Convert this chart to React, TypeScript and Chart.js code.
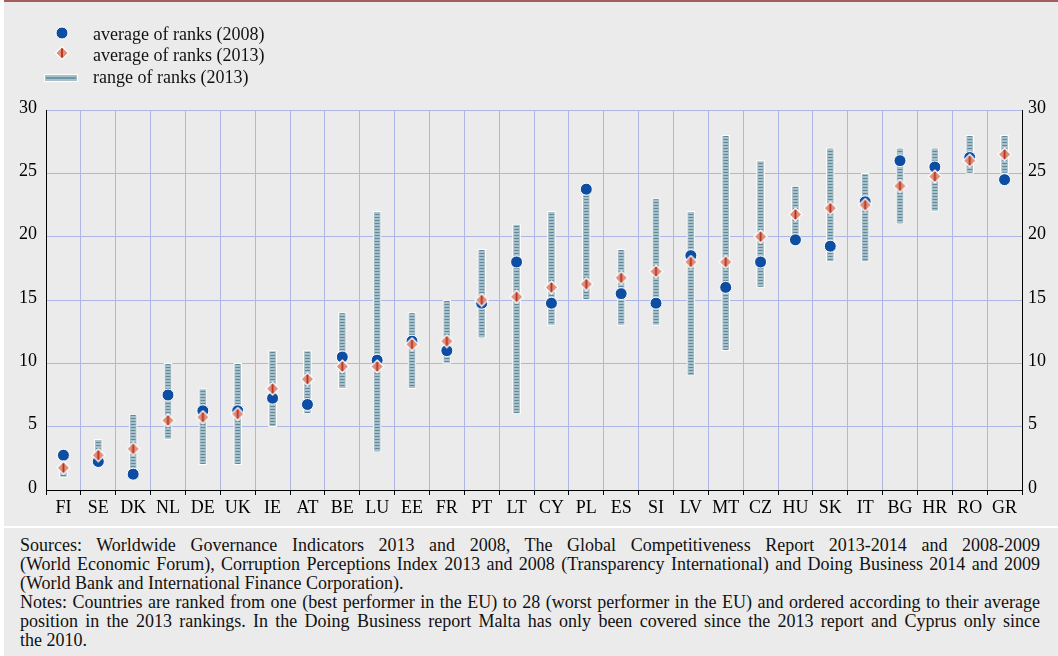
import React, { useEffect, useRef } from 'react';
import { Chart, registerables } from 'chart.js';

Chart.register(...registerables);

// ---------- data ----------
const countries = ['FI', 'SE', 'DK', 'NL', 'DE', 'UK', 'IE', 'AT', 'BE', 'LU', 'EE', 'FR', 'PT', 'LT', 'CY', 'PL', 'ES', 'SI', 'LV', 'MT', 'CZ', 'HU', 'SK', 'IT', 'BG', 'HR', 'RO', 'GR'];
const avgRanks2008 = [2.75, 2.25, 1.25, 7.5, 6.25, 6.25, 7.25, 6.75, 10.5, 10.25, 11.75, 11, 14.75, 18, 14.75, 23.75, 15.5, 14.75, 18.5, 16, 18, 19.75, 19.25, 22.75, 26, 25.5, 26.25, 24.5];
const avgRanks2013 = [1.75, 2.75, 3.25, 5.5, 5.75, 6, 8, 8.75, 9.75, 9.75, 11.5, 11.75, 15, 15.25, 16, 16.25, 16.75, 17.25, 18, 18, 20, 21.75, 22.25, 22.5, 24, 24.75, 26, 26.5];
const rangeMin2013 = [1, 2, 1, 4, 2, 2, 5, 6, 8, 3, 8, 10, 12, 6, 13, 15, 13, 13, 9, 11, 16, 20, 18, 18, 21, 22, 25, 25];
const rangeMax2013 = [2, 4, 6, 10, 8, 10, 11, 11, 14, 22, 14, 15, 19, 21, 22, 24, 19, 23, 22, 28, 26, 24, 27, 25, 27, 27, 28, 28];
const yMin = 0;
const yMax = 30;
const yStep = 5;

const legendLabels = ['average of ranks (2008)', 'average of ranks (2013)', 'range of ranks (2013)'];

const sourcesLines = [
  'Sources: Worldwide Governance Indicators 2013 and 2008, The Global Competitiveness Report 2013-2014 and 2008-2009',
  '(World Economic Forum), Corruption Perceptions Index 2013 and 2008 (Transparency International) and Doing Business 2014 and 2009',
  '(World Bank and International Finance Corporation).',
];
const notesLines = [
  'Notes: Countries are ranked from one (best performer in the EU) to 28 (worst performer in the EU) and ordered according to their average',
  'position in the 2013 rankings. In the Doing Business report Malta has only been covered since the 2013 report and Cyprus only since',
  'the 2010.',
];

// ---------- styles ----------
const FONT = '"Liberation Serif", "Times New Roman", Times, serif';
const BLUE = '#0d4ea3';
const SALMON = '#de8f7b';
const DARKRED = '#b3301e';
const RANGE_LIGHT = '#a9bfca';
const RANGE_DARK = '#5a8a9a';
const GRID = '#aeb6e6';
const PANEL = '#ebebeb';
const TRANSPARENT = 'rgba(0,0,0,0)';

function makeDiamond(): HTMLCanvasElement {
  const c = document.createElement('canvas');
  c.width = 15;
  c.height = 15;
  const g = c.getContext('2d')!;
  g.beginPath();
  g.moveTo(7.5, 1);
  g.lineTo(14, 7.5);
  g.lineTo(7.5, 14);
  g.lineTo(1, 7.5);
  g.closePath();
  g.fillStyle = SALMON;
  g.fill();
  g.lineWidth = 1.2;
  g.strokeStyle = '#ffffff';
  g.stroke();
  g.beginPath();
  g.moveTo(7.5, 3);
  g.lineTo(7.5, 12);
  g.lineWidth = 1.8;
  g.strokeStyle = DARKRED;
  g.stroke();
  return c;
}

function makeStripePattern(ctx: CanvasRenderingContext2D): CanvasPattern | string {
  const c = document.createElement('canvas');
  c.width = 2;
  c.height = 3;
  const g = c.getContext('2d')!;
  g.fillStyle = RANGE_DARK;
  g.fillRect(0, 1, 2, 1);
  return ctx.createPattern(c, 'repeat') || RANGE_DARK;
}

function ChartCanvas() {
  const ref = useRef<HTMLCanvasElement | null>(null);
  useEffect(() => {
    const canvas = ref.current;
    if (!canvas) return;
    const ctx = canvas.getContext('2d')!;
    const diamond = makeDiamond();
    const stripes = makeStripePattern(ctx);
    const ranges = countries.map((_, i) => [rangeMin2013[i], rangeMax2013[i]]);

    const tickFont = { family: FONT, size: 18 };

    const chart = new Chart(ctx, {
      type: 'bar',
      data: {
        labels: countries,
        datasets: [
          {
            type: 'line',
            label: legendLabels[1],
            data: avgRanks2013,
            showLine: false,
            pointStyle: diamond as any,
            pointRadius: 7,
            order: 0,
          } as any,
          {
            type: 'line',
            label: legendLabels[0],
            data: avgRanks2008,
            showLine: false,
            pointStyle: 'circle',
            pointRadius: 6,
            pointBackgroundColor: BLUE,
            pointBorderColor: '#ffffff',
            pointBorderWidth: 1,
            order: 1,
          } as any,
          {
            type: 'bar',
            label: 'stripes',
            data: ranges,
            backgroundColor: stripes,
            borderColor: TRANSPARENT,
            borderWidth: 1,
            borderSkipped: false,
            barThickness: 6,
            grouped: false,
            order: 2,
          } as any,
          {
            type: 'bar',
            label: legendLabels[2],
            data: ranges,
            backgroundColor: RANGE_LIGHT,
            borderColor: '#ffffff',
            borderWidth: 1,
            borderSkipped: false,
            barThickness: 8,
            grouped: false,
            order: 3,
          } as any,
        ],
      },
      options: {
        animation: false,
        responsive: false,
        maintainAspectRatio: false,
        layout: { padding: { top: 110, left: 0, right: 0, bottom: 0 } },
        plugins: { legend: { display: false }, tooltip: { enabled: false } },
        scales: {
          x: {
            type: 'category',
            offset: true,
            grid: {
              offset: true,
              display: true,
              drawOnChartArea: true,
              color: (c: any) => (c.index === 0 || c.index === undefined ? TRANSPARENT : GRID),
              lineWidth: 1,
              drawTicks: true,
              tickLength: 5,
              tickColor: '#000000',
              tickWidth: 1,
            },
            border: { display: true, color: '#000000', width: 1 },
            ticks: { color: '#000000', font: tickFont, padding: 2, maxRotation: 0, autoSkip: false },
            afterFit: (s: any) => {
              s.height = 36;
            },
          },
          y: {
            position: 'left',
            min: yMin,
            max: yMax,
            ticks: { stepSize: yStep, color: '#000000', font: tickFont, padding: 9, labelOffset: -2 },
            grid: {
              color: (c: any) => (c.tick && c.tick.value === 0 ? TRANSPARENT : GRID),
              lineWidth: 1,
              drawTicks: false,
            },
            border: { display: true, color: '#000000', width: 1 },
            afterFit: (s: any) => {
              s.width = 46;
            },
          },
          y2: {
            position: 'right',
            min: yMin,
            max: yMax,
            ticks: { stepSize: yStep, color: '#000000', font: tickFont, padding: 6, labelOffset: -2 },
            grid: { drawOnChartArea: false, drawTicks: false },
            border: { display: true, color: '#000000', width: 1 },
            afterFit: (s: any) => {
              s.width = 36;
            },
          },
        },
      } as any,
    });
    return () => chart.destroy();
  }, []);
  return (
    <canvas
      ref={ref}
      width={1058}
      height={526}
      style={{ position: 'absolute', left: 0, top: 0, width: 1058, height: 526 }}
    />
  );
}

function Legend() {
  const rows = [34, 55, 77];
  return (
    <>
      <svg width={120} height={100} style={{ position: 'absolute', left: 0, top: 0 }}>
        <circle cx={62} cy={33} r={6} fill={BLUE} stroke="#ffffff" strokeWidth={1} />
        <path d="M62 46.5 L68.5 53 L62 59.5 L55.5 53 Z" fill={SALMON} stroke="#ffffff" strokeWidth={1.2} />
        <line x1={62} y1={48.5} x2={62} y2={57.5} stroke={DARKRED} strokeWidth={1.8} />
        <rect x={44.5} y={74.5} width={33} height={7} fill={RANGE_LIGHT} stroke="#ffffff" strokeWidth={1} />
        <line x1={46} y1={78} x2={76} y2={78} stroke={RANGE_DARK} strokeWidth={1.5} />
      </svg>
      {legendLabels.map((t, i) => (
        <div
          key={t}
          style={{
            position: 'absolute',
            left: 93,
            top: rows[i] - 11,
            height: 22,
            lineHeight: '22px',
            fontFamily: FONT,
            fontSize: 18,
            color: '#111111',
            whiteSpace: 'nowrap',
          }}
        >
          {t}
        </div>
      ))}
    </>
  );
}

function Footer() {
  const lineStyle = (last: boolean): React.CSSProperties => ({
    textAlign: last ? 'left' : 'justify',
    textAlignLast: last ? 'left' : 'justify',
    height: 19,
    lineHeight: '19px',
    overflow: 'visible',
  } as React.CSSProperties);
  return (
    <div
      style={{
        position: 'absolute',
        left: 20,
        top: 536,
        width: 1020,
        fontFamily: FONT,
        fontSize: 18,
        color: '#111111',
      }}
    >
      {sourcesLines.map((l, i) => (
        <div key={'s' + i} style={lineStyle(i === sourcesLines.length - 1)}>
          {l}
        </div>
      ))}
      {notesLines.map((l, i) => (
        <div key={'n' + i} style={lineStyle(i === notesLines.length - 1)}>
          {l}
        </div>
      ))}
    </div>
  );
}

export default function App() {
  return (
    <div style={{ position: 'absolute', left: 0, top: 0, width: 1058, height: 656, background: '#ffffff', overflow: 'hidden' }}>
      <div style={{ position: 'absolute', left: 4, top: 0, width: 1054, height: 526, background: PANEL, borderTop: '2px solid #a45c5c', boxSizing: 'border-box' }} />
      <div style={{ position: 'absolute', left: 4, top: 528, width: 1054, height: 128, background: PANEL }} />
      <ChartCanvas />
      <Legend />
      <Footer />
    </div>
  );
}
